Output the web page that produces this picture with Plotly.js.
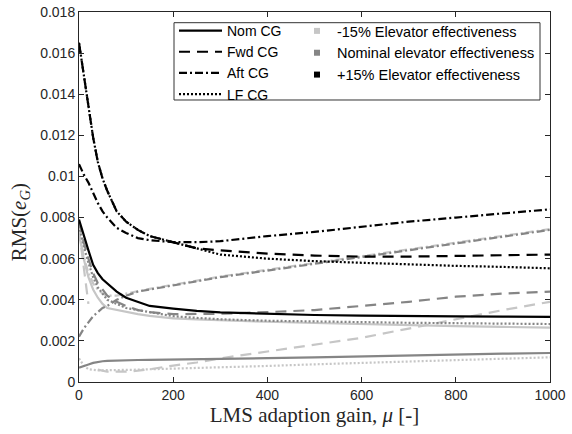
<!DOCTYPE html>
<html>
<head>
<meta charset="utf-8">
<script src="https://cdn.plot.ly/plotly-3.0.1.min.js"></script>
<style>
  html, body { margin: 0; padding: 0; background: #fff; }
  #chart { width: 572px; height: 434px; }
</style>
</head>
<body>
<div id="chart"></div>
<script>
// LMS adaption gain values (mu)
const gain = [0, 10, 20, 30, 40, 50, 60, 80, 100, 125, 150, 200, 250, 300, 400, 500, 600, 700, 800, 900, 1000];

// +15% elevator effectiveness
const plus15Nom = [0.0079, 0.0071, 0.0064, 0.0057, 0.0053, 0.0050, 0.0048, 0.0044, 0.0041, 0.0039, 0.0037, 0.00357, 0.00346, 0.00339, 0.00331, 0.00326, 0.00323, 0.0032, 0.00319, 0.00318, 0.00317];
const plus15Fwd = [0.0165, 0.0149, 0.0133, 0.0119, 0.0107, 0.0099, 0.0093, 0.0083, 0.0078, 0.0074, 0.0071, 0.0068, 0.0065, 0.0064, 0.00625, 0.00615, 0.0061, 0.0061, 0.00613, 0.00617, 0.0062];
const plus15Aft = [0.0106, 0.0101, 0.0097, 0.0092, 0.0087, 0.0083, 0.0080, 0.0075, 0.00725, 0.0070, 0.0069, 0.0068, 0.0068, 0.00685, 0.0071, 0.0073, 0.00755, 0.0078, 0.0080, 0.0082, 0.0084];
const plus15LF  = [0.0165, 0.0149, 0.0133, 0.0119, 0.0107, 0.0099, 0.0093, 0.0083, 0.0078, 0.0074, 0.0071, 0.0068, 0.0065, 0.0062, 0.0060, 0.00588, 0.0058, 0.00572, 0.00565, 0.0056, 0.00553];

// Nominal elevator effectiveness
const nominalNom = [0.0007, 0.00076, 0.00085, 0.00093, 0.00098, 0.00101, 0.00103, 0.00105, 0.00106, 0.00107, 0.00108, 0.00109, 0.0011, 0.00112, 0.00116, 0.0012, 0.00125, 0.0013, 0.00134, 0.00138, 0.00141];
const nominalFwd = [0.0078, 0.0068, 0.0060, 0.0053, 0.0048, 0.0045, 0.0042, 0.0039, 0.0037, 0.0035, 0.0034, 0.0033, 0.0033, 0.00332, 0.0034, 0.0035, 0.0037, 0.0039, 0.00415, 0.0043, 0.0044];
const nominalAft = [0.0022, 0.0026, 0.0029, 0.0032, 0.0034, 0.0036, 0.0037, 0.0040, 0.0042, 0.0044, 0.0045, 0.0047, 0.0049, 0.0051, 0.00542, 0.00575, 0.00608, 0.0064, 0.00673, 0.00706, 0.0074];
const nominalLF  = [0.0076, 0.0066, 0.0058, 0.0051, 0.0046, 0.0043, 0.0040, 0.0038, 0.0036, 0.0035, 0.0034, 0.0032, 0.00312, 0.00305, 0.00298, 0.00294, 0.0029, 0.00288, 0.00286, 0.00284, 0.00282];

// -15% elevator effectiveness
const minus15Nom = [0.0072, 0.0060, 0.0051, 0.0045, 0.0041, 0.0038, 0.0036, 0.0035, 0.0034, 0.0033, 0.00322, 0.0031, 0.00305, 0.0030, 0.00293, 0.00287, 0.00281, 0.00276, 0.00272, 0.00268, 0.00265];
const minus15Fwd = [0.0074, 0.0057, 0.0038, null, 0.0006, 0.00055, 0.0005, 0.0005, 0.0005, 0.00055, 0.00062, 0.0008, 0.00095, 0.00115, 0.00148, 0.0018, 0.00215, 0.0026, 0.00305, 0.0035, 0.0039];
const minus15Aft = [0.0073, 0.0061, 0.0053, 0.0048, 0.0045, 0.0043, 0.0042, 0.0042, 0.0043, 0.00443, 0.00453, 0.00473, 0.00493, 0.00513, 0.00546, 0.00579, 0.00612, 0.00644, 0.00677, 0.0071, 0.00744];
const minus15LF  = [0.00115, 0.0008, 0.00062, 0.00058, 0.00057, 0.00057, 0.00057, 0.00058, 0.00058, 0.0006, 0.00062, 0.00065, 0.00068, 0.0007, 0.00078, 0.00086, 0.00093, 0.001, 0.00107, 0.00114, 0.0012];

// Legend labels
const cgNames = ['Nom CG', 'Fwd CG', 'Aft CG', 'LF CG'];
const effNames = ['-15% Elevator effectiveness', 'Nominal elevator effectiveness', '+15% Elevator effectiveness'];

const colLight = '#c6c6c6';
const colMid = '#858585';
const colDark = '#000000';
const lw = 2.2;
const dashes = ['solid', '11px,7px', '8px,3px,2px,3px', '2px,2px'];

function curve(y, color, dash) {
  return {
    x: gain, y: y, type: 'scatter', mode: 'lines',
    line: { color: color, width: lw, dash: dash },
    connectgaps: false, showlegend: false, hoverinfo: 'skip'
  };
}

const traces = [];
[minus15Nom, minus15Fwd, minus15Aft, minus15LF].forEach((y, i) => traces.push(curve(y, colLight, dashes[i])));
[nominalNom, nominalFwd, nominalAft, nominalLF].forEach((y, i) => traces.push(curve(y, colMid, dashes[i])));
[plus15Nom, plus15Fwd, plus15Aft, plus15LF].forEach((y, i) => traces.push(curve(y, colDark, dashes[i])));

// Legend entries: line style per CG case
cgNames.forEach((name, i) => traces.push({
  x: [null], y: [null], type: 'scatter', mode: 'lines', name: name,
  line: { color: colDark, width: lw, dash: dashes[i] },
  legend: 'legend', showlegend: true
}));
// Legend entries: colour per elevator effectiveness case
[colLight, colMid, colDark].forEach((c, i) => traces.push({
  x: [null], y: [null], type: 'scatter', mode: 'markers', name: effNames[i],
  marker: { color: c, symbol: 'square', size: 6 },
  legend: 'legend2', showlegend: true
}));

const axisColor = '#262626';
const sans = 'Liberation Sans, Arial, sans-serif';
const serif = 'Liberation Serif, Times New Roman, serif';
const layout = {
  width: 572, height: 434,
  margin: { l: 79, r: 22, t: 12, b: 52 },
  paper_bgcolor: '#ffffff', plot_bgcolor: '#ffffff',
  font: { family: sans, size: 14, color: axisColor },
  xaxis: {
    range: [0, 1000], dtick: 200, showgrid: false, zeroline: false,
    showline: true, linecolor: axisColor, linewidth: 1, mirror: 'ticks',
    ticks: 'inside', ticklen: 5, tickcolor: axisColor,
    tickfont: { family: sans, size: 14, color: axisColor },
    title: { text: 'LMS adaption gain, <i>μ</i> [-]', font: { family: serif, size: 21, color: axisColor }, standoff: 4 }
  },
  yaxis: {
    range: [0, 0.018], dtick: 0.002, showgrid: false, zeroline: false,
    showline: true, linecolor: axisColor, linewidth: 1, mirror: 'ticks',
    ticks: 'inside', ticklen: 5, tickcolor: axisColor,
    tickfont: { family: sans, size: 14, color: axisColor }
  },
  annotations: [{
    text: 'RMS(<i>e</i><sub><i>G</i></sub>)', textangle: -90,
    xref: 'paper', yref: 'paper', x: -0.125, y: 0.432,
    xanchor: 'center', yanchor: 'middle', showarrow: false,
    font: { family: serif, size: 21, color: axisColor }
  }],
  legend: {
    x: 0.2017, y: 0.992, xanchor: 'left', yanchor: 'top',
    bgcolor: 'rgba(0,0,0,0)', borderwidth: 0, tracegroupgap: 0,
    traceorder: 'normal', orientation: 'v', itemwidth: 43,
    font: { family: sans, size: 14, color: '#000' }
  },
  legend2: {
    x: 0.4628, y: 0.992, xanchor: 'left', yanchor: 'top',
    bgcolor: 'rgba(0,0,0,0)', borderwidth: 0, tracegroupgap: 0,
    traceorder: 'normal', orientation: 'v',
    font: { family: sans, size: 14.5, color: '#000' }
  },
  shapes: [{
    type: 'rect', xref: 'paper', yref: 'paper',
    x0: 0.2017, x1: 0.9788, y0: 0.7622, y1: 0.9711,
    line: { color: '#333333', width: 1 }, fillcolor: '#ffffff', layer: 'below'
  }]
};

Plotly.newPlot('chart', traces, layout, { displayModeBar: false, staticPlot: true });
</script>
</body>
</html>
